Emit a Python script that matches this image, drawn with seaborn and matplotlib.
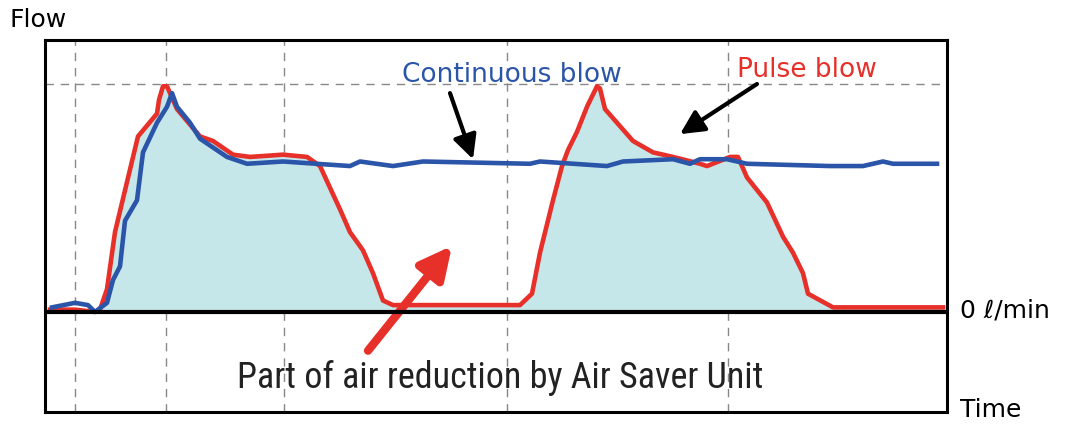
import numpy as np
import pandas as pd
import seaborn as sns
import matplotlib.pyplot as plt

# pulse blow trace (time, flow) - flow 100 = peak
pulse_t = [5, 30, 50, 55, 62, 70, 82, 93, 112, 114, 118, 122, 132, 155, 168, 188,
           205, 238, 262, 275, 295, 305, 318, 328, 338, 348, 405, 475, 487, 495,
           508, 517, 523, 532, 542, 552, 555, 560, 572, 588, 608, 628, 655, 662,
           685, 693, 702, 722, 738, 748, 758, 763, 788, 812, 868, 898]
pulse_f = [1, 1, 0, 1, 10, 35, 57, 77, 87, 93, 99, 99, 89, 77, 75, 69,
           68, 69, 68, 64, 45, 35, 27, 17, 5, 3, 3, 3, 8, 26,
           49, 64, 71, 79, 90, 99, 98, 89, 83, 75, 70, 68, 65, 64,
           68, 68, 59, 48, 33, 26, 17, 8, 2, 2, 2, 2]

# continuous blow trace
cont_t = [7, 30, 43, 50, 62, 68, 75, 80, 92, 98, 112, 122, 127, 132, 145, 155,
          182, 202, 238, 305, 315, 348, 378, 485, 495, 562, 578, 628, 645, 655,
          682, 702, 785, 818, 838, 848, 892]
cont_f = [2, 4, 3, 0, 4, 14, 20, 40, 49, 70, 83, 90, 96, 90, 83, 76,
          68, 65, 66, 64, 66, 64, 66, 65, 66, 64, 66, 67, 65, 67,
          67, 65, 64, 64, 66, 65, 65]

grid_t = [30, 121, 239, 462, 683]

pulse = pd.DataFrame({'time': pulse_t, 'flow': pulse_f})
cont = pd.DataFrame({'time': cont_t, 'flow': cont_f})

RED = '#e8302a'
BLUE = '#2b55a8'
FILL = '#c6e7ea'

fig = plt.figure(figsize=(10.69, 4.25), dpi=100)
ax = fig.add_axes([45/1069, 13/425, 902/1069, 372/425])

ax.fill_between(pulse['time'], 0, pulse['flow'], color=FILL, lw=0, zorder=1)

for t in grid_t:
    ax.axvline(t, color='#888888', ls=(0, (6, 5)), lw=1, zorder=0)
ax.axhline(100, color='#888888', ls=(0, (6, 5)), lw=1, zorder=0)
ax.axhline(0, color='black', lw=3, zorder=4)

sns.lineplot(data=pulse, x='time', y='flow', color=RED, lw=3.3, ax=ax, zorder=3)
sns.lineplot(data=cont, x='time', y='flow', color=BLUE, lw=3.3, ax=ax, zorder=3)

ax.set_xlim(0, 902)
ax.set_ylim(-43.9, 119.3)
ax.set_xticks([])
ax.set_yticks([])
ax.set_xlabel('')
ax.set_ylabel('')
for s in ax.spines.values():
    s.set_linewidth(2.2)
    s.set_color('black')

ax.text(467, 104, 'Continuous blow', color=BLUE, fontsize=19,
        ha='center', va='center', family='DejaVu Sans')
ax.text(762, 106, 'Pulse blow', color=RED, fontsize=19,
        ha='center', va='center', family='DejaVu Sans')
ax.annotate('', xy=(428, 67), xytext=(405, 96),
            arrowprops=dict(arrowstyle='-|>', color='black', lw=3,
                            mutation_scale=36, shrinkA=0, shrinkB=0))
ax.annotate('', xy=(635, 78), xytext=(712, 100),
            arrowprops=dict(arrowstyle='-|>', color='black', lw=3,
                            mutation_scale=36, shrinkA=0, shrinkB=0))
ax.annotate('', xy=(407, 29), xytext=(323, -17),
            arrowprops=dict(arrowstyle='-|>', color=RED, lw=6,
                            mutation_scale=48, shrinkA=0, shrinkB=0))
ax.text(455, -29, 'Part of air reduction by Air Saver Unit', color='#222222',
        fontsize=26, ha='center', va='center', weight='normal',
        family=['Liberation Sans Narrow', 'DejaVu Sans Condensed',
                'Roboto Condensed', 'Roboto'])

fig.text(10/1069, 1 - 20/425, 'Flow', fontsize=18, ha='left', va='center')
fig.text(960/1069, 1 - 311/425, '0 ℓ/min', fontsize=18, ha='left', va='center')
fig.text(960/1069, 1 - 410/425, 'Time', fontsize=18, ha='left', va='center')

fig.savefig('out.png', dpi=100)
